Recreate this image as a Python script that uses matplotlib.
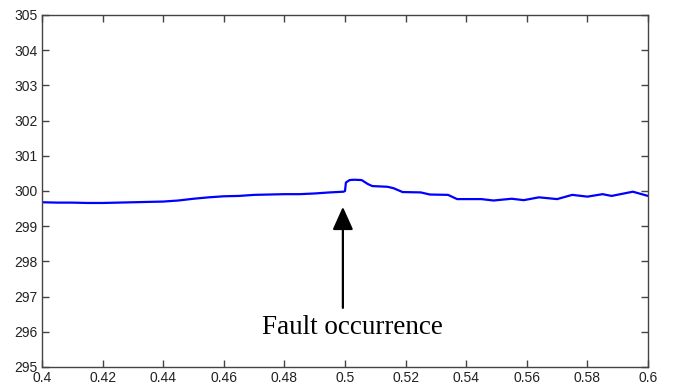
import matplotlib
matplotlib.use("Agg")
import matplotlib.pyplot as plt

# time (s) and value
t = [0.400, 0.405, 0.410, 0.415, 0.420, 0.425, 0.430, 0.435, 0.440, 0.445,
     0.450, 0.455, 0.460, 0.465, 0.470, 0.475, 0.480, 0.485, 0.490, 0.495,
     0.4995, 0.5000, 0.5003, 0.5015, 0.5030, 0.5055, 0.5075, 0.5090, 0.5140, 0.5160,
     0.5190, 0.5250, 0.5280, 0.5340, 0.5370, 0.5450, 0.5490, 0.5550, 0.5590,
     0.5640, 0.5700, 0.5750, 0.5800, 0.5850, 0.5880, 0.5950, 0.6000]
v = [299.68, 299.67, 299.67, 299.66, 299.66, 299.67, 299.68, 299.69, 299.70, 299.73,
     299.78, 299.82, 299.85, 299.86, 299.89, 299.90, 299.91, 299.91, 299.93, 299.96,
     299.98, 300.00, 300.24, 300.31, 300.32, 300.31, 300.20, 300.14, 300.12, 300.08,
     299.97, 299.96, 299.90, 299.89, 299.77, 299.77, 299.73, 299.78, 299.74,
     299.82, 299.77, 299.89, 299.84, 299.91, 299.86, 299.98, 299.86]

xticks = [0.4, 0.42, 0.44, 0.46, 0.48, 0.5, 0.52, 0.54, 0.56, 0.58, 0.6]
xticklabels = ["0.4", "0.42", "0.44", "0.46", "0.48", "0.5", "0.52", "0.54", "0.56", "0.58", "0.6"]
yticks = [295, 296, 297, 298, 299, 300, 301, 302, 303, 304, 305]
annot_text = "Fault occurrence"
arrow_x = 0.4993
arrow_tip = 299.55
arrow_base = 296.68

W, H = 673, 390
fig = plt.figure(figsize=(W / 100, H / 100), dpi=100)
ax = fig.add_axes([42 / W, (H - 367) / H, (648 - 42) / W, (367 - 15) / H])

ax.plot(t, v, color="#0000ff", lw=1.6)
ax.set_xlim(0.4, 0.6)
ax.set_ylim(295, 305)
ax.set_xticks(xticks)
ax.set_xticklabels(xticklabels)
ax.set_yticks(yticks)

spine_c = "#444444"
for s in ax.spines.values():
    s.set_color(spine_c)
    s.set_linewidth(1.0)
ax.tick_params(direction="in", length=5, width=1.0, color=spine_c,
               top=True, right=True, labelsize=10, labelcolor="#222222", pad=3)
for lab in ax.get_xticklabels() + ax.get_yticklabels():
    lab.set_fontfamily("Liberation Sans")

ax.annotate("", xy=(arrow_x, arrow_tip), xytext=(arrow_x, arrow_base),
            arrowprops=dict(arrowstyle="-|>,head_length=1.0,head_width=0.45",
                            mutation_scale=14, lw=1.6, color="black",
                            shrinkA=0, shrinkB=0))

fig.text(352 / W, (H - 334) / H, annot_text, ha="center", va="baseline",
         fontsize=19.5, family="Liberation Serif", color="black")

fig.savefig("out.png", dpi=100)
